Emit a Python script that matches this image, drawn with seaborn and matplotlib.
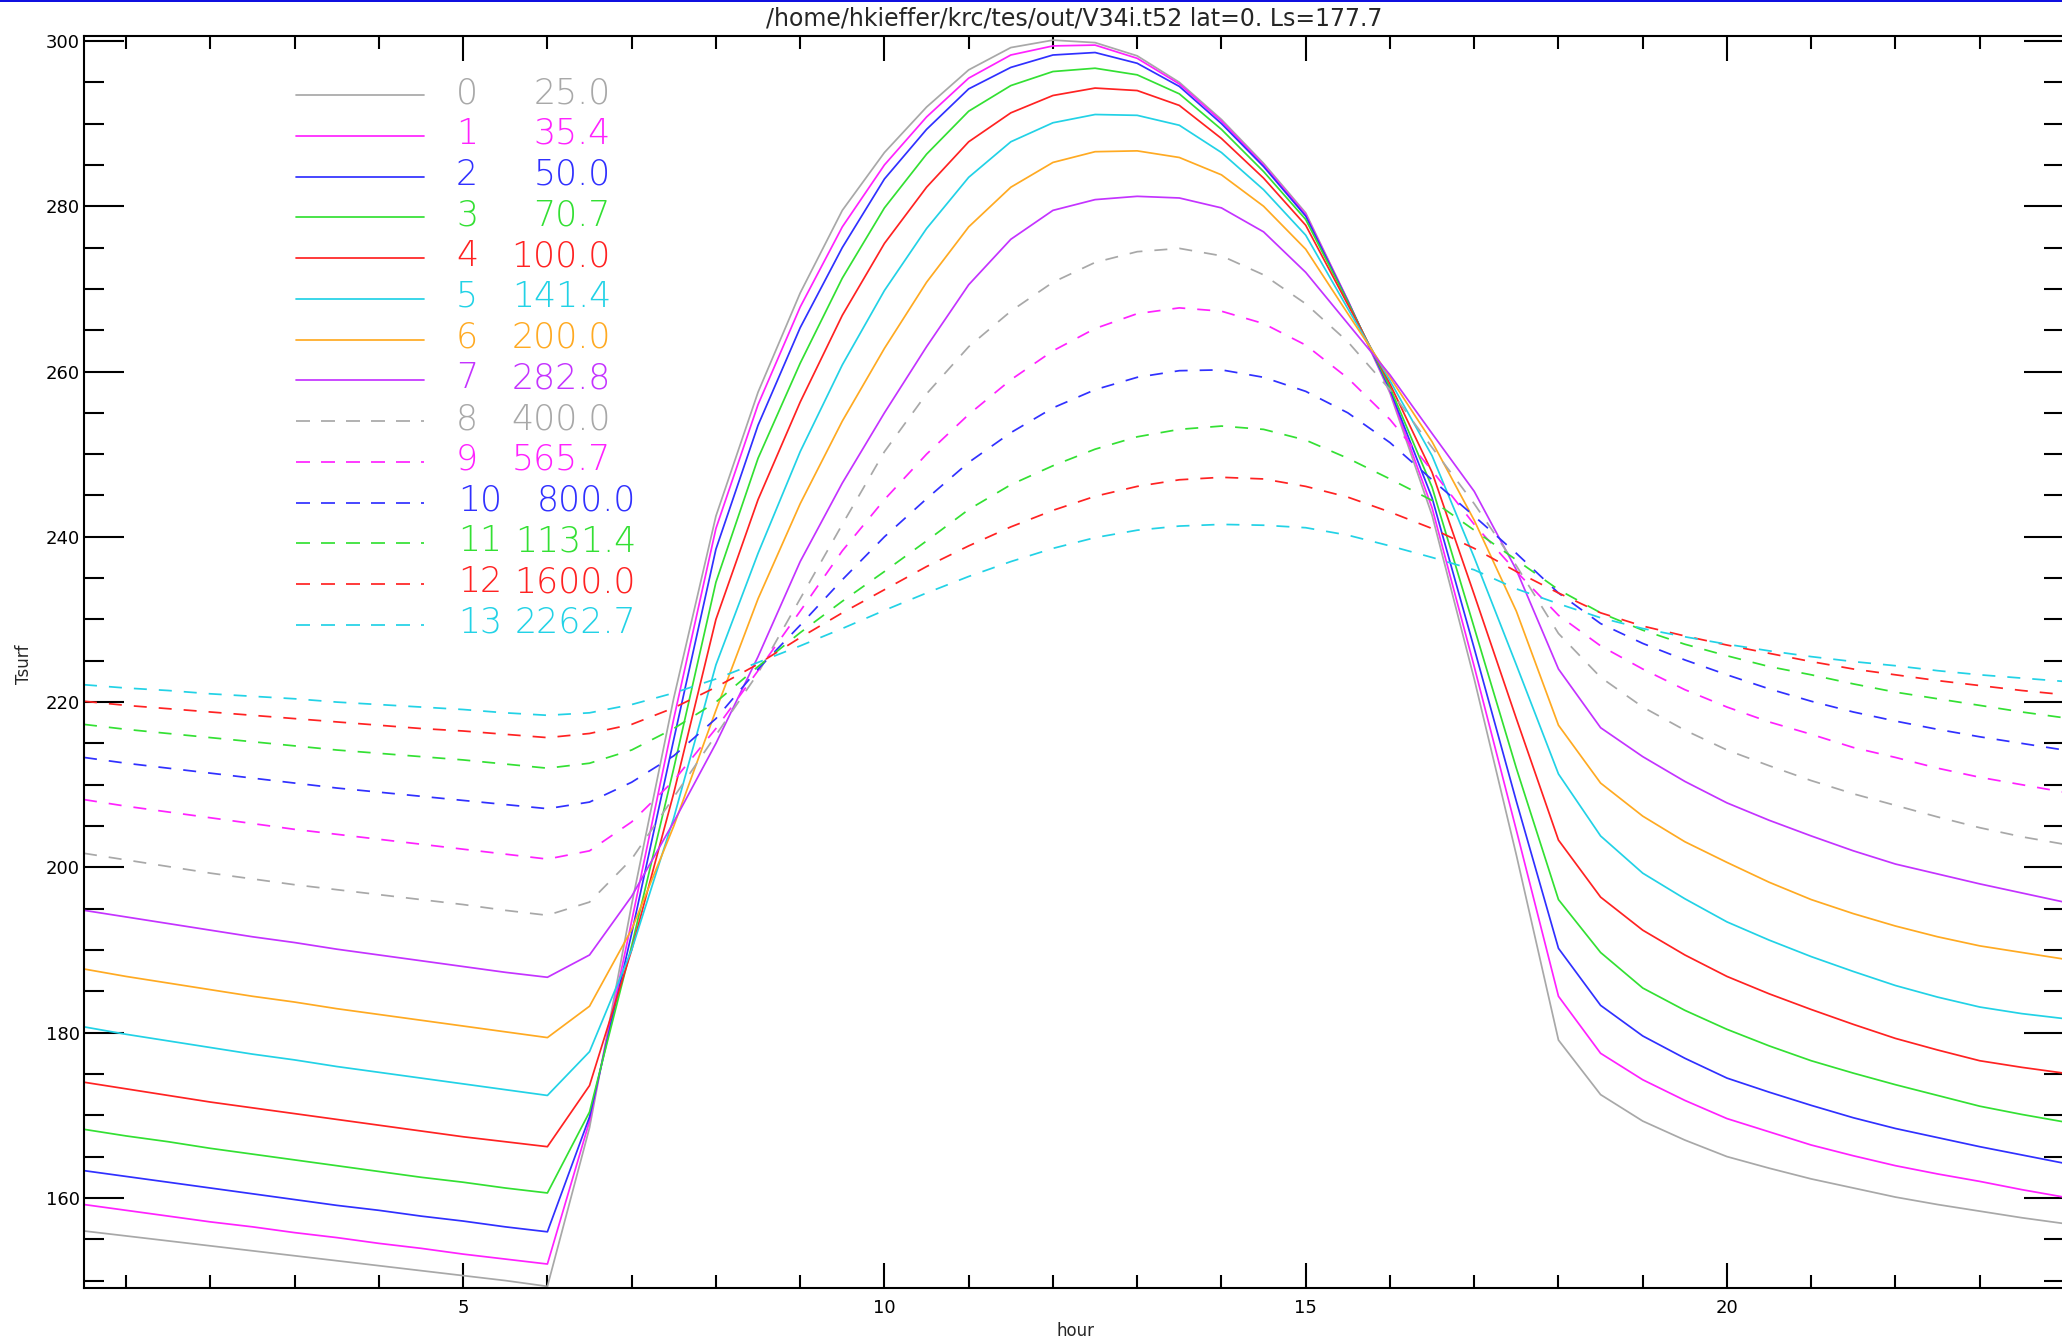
import numpy as np
import pandas as pd
import matplotlib
matplotlib.use("Agg")
import matplotlib.pyplot as plt
import seaborn as sns
from matplotlib.lines import Line2D
from matplotlib.patches import Rectangle
from matplotlib.ticker import MultipleLocator

# ---------------- data ----------------
HOURS = [0.5, 1.0, 1.5, 2.0, 2.5, 3.0, 3.5, 4.0, 4.5, 5.0, 5.5, 6.0,
         6.5, 7.0, 7.5, 8.0, 8.5, 9.0, 9.5, 10.0, 10.5, 11.0, 11.5, 12.0,
         12.5, 13.0, 13.5, 14.0, 14.5, 15.0, 15.5, 16.0, 16.5, 17.0, 17.5, 18.0,
         18.5, 19.0, 19.5, 20.0, 20.5, 21.0, 21.5, 22.0, 22.5, 23.0, 23.5, 24.0]

CASE_INDEX = list(range(14))
INERTIA = [25.0, 35.4, 50.0, 70.7, 100.0, 141.4, 200.0, 282.8,
           400.0, 565.7, 800.0, 1131.4, 1600.0, 2262.7]

T_00 = [156.0, 155.4, 154.8, 154.2, 153.6, 153.0, 152.4, 151.8, 151.2, 150.6, 150.0, 149.3,
        168.5, 195.5, 220.5, 242.5, 257.5, 269.5, 279.5, 286.5, 292.0, 296.5, 299.2, 300.1,
        299.8, 298.2, 295.0, 290.5, 285.2, 279.2, 268.6, 257.4, 242.6, 222.8, 201.5, 179.1,
        172.5, 169.3, 167.0, 165.0, 163.6, 162.3, 161.2, 160.1, 159.2, 158.4, 157.6, 156.9]
T_01 = [159.2, 158.5, 157.8, 157.1, 156.5, 155.8, 155.2, 154.5, 153.9, 153.2, 152.6, 152.0,
        169.3, 193.5, 218.0, 241.0, 256.0, 267.8, 277.5, 285.0, 290.8, 295.5, 298.3, 299.4,
        299.5, 297.9, 294.8, 290.3, 285.0, 279.0, 268.6, 257.6, 243.5, 224.3, 204.5, 184.4,
        177.5, 174.3, 171.8, 169.6, 168.0, 166.4, 165.1, 163.9, 162.9, 162.0, 161.0, 160.1]
T_02 = [163.3, 162.6, 161.9, 161.2, 160.5, 159.8, 159.1, 158.5, 157.8, 157.2, 156.5, 155.9,
        169.8, 192.0, 215.5, 238.5, 253.5, 265.3, 275.0, 283.3, 289.3, 294.2, 296.8, 298.3,
        298.6, 297.3, 294.5, 290.0, 284.8, 278.8, 268.5, 257.8, 244.7, 226.5, 208.0, 190.2,
        183.3, 179.6, 176.9, 174.5, 172.8, 171.2, 169.7, 168.4, 167.3, 166.2, 165.2, 164.2]
T_03 = [168.3, 167.5, 166.8, 166.0, 165.3, 164.6, 163.9, 163.2, 162.5, 161.9, 161.2, 160.6,
        170.4, 190.5, 212.0, 234.5, 249.5, 261.0, 271.3, 279.8, 286.3, 291.5, 294.6, 296.3,
        296.7, 295.9, 293.6, 289.3, 284.2, 278.4, 268.4, 258.1, 246.0, 229.0, 212.0, 196.1,
        189.7, 185.4, 182.7, 180.4, 178.4, 176.6, 175.1, 173.7, 172.4, 171.1, 170.1, 169.2]
T_04 = [174.0, 173.2, 172.4, 171.6, 170.9, 170.2, 169.5, 168.8, 168.1, 167.4, 166.8, 166.2,
        173.6, 190.0, 209.0, 230.0, 244.5, 256.3, 266.8, 275.5, 282.3, 287.8, 291.3, 293.4,
        294.3, 294.0, 292.2, 288.2, 283.4, 277.7, 268.1, 258.5, 247.8, 233.0, 218.0, 203.3,
        196.4, 192.4, 189.4, 186.8, 184.7, 182.8, 181.0, 179.3, 177.9, 176.6, 175.8, 175.1]
T_05 = [180.7, 179.8, 179.0, 178.2, 177.4, 176.7, 175.9, 175.2, 174.5, 173.8, 173.1, 172.4,
        177.7, 190.0, 206.0, 224.5, 238.0, 250.3, 260.8, 269.8, 277.3, 283.5, 287.8, 290.1,
        291.1, 291.0, 289.8, 286.5, 282.0, 276.5, 267.6, 258.9, 249.8, 237.5, 224.5, 211.3,
        203.8, 199.3, 196.2, 193.4, 191.2, 189.2, 187.4, 185.7, 184.3, 183.1, 182.3, 181.7]
T_06 = [187.7, 186.8, 186.0, 185.2, 184.4, 183.7, 182.9, 182.2, 181.5, 180.8, 180.1, 179.4,
        183.2, 192.5, 205.0, 219.0, 232.5, 244.0, 254.0, 262.8, 270.8, 277.5, 282.3, 285.3,
        286.6, 286.7, 285.9, 283.8, 280.0, 274.8, 267.0, 259.3, 251.5, 242.0, 231.0, 217.2,
        210.2, 206.2, 203.1, 200.6, 198.2, 196.1, 194.4, 192.9, 191.6, 190.5, 189.7, 188.9]
T_07 = [194.8, 194.0, 193.2, 192.4, 191.6, 190.9, 190.1, 189.4, 188.7, 188.0, 187.3, 186.7,
        189.4, 196.5, 205.5, 215.0, 225.5, 237.0, 246.5, 255.0, 263.0, 270.5, 276.0, 279.5,
        280.8, 281.2, 281.0, 279.8, 276.9, 272.0, 265.8, 259.6, 252.5, 245.5, 236.0, 224.0,
        216.9, 213.4, 210.4, 207.8, 205.7, 203.8, 202.0, 200.4, 199.2, 198.0, 196.9, 195.8]
T_08 = [201.7, 200.9, 200.1, 199.3, 198.6, 197.9, 197.3, 196.7, 196.1, 195.5, 194.8, 194.2,
        195.8, 201.0, 208.5, 216.0, 223.5, 232.5, 241.5, 250.3, 257.3, 263.0, 267.3, 270.8,
        273.2, 274.5, 274.9, 274.0, 271.7, 268.2, 263.6, 257.8, 250.8, 244.0, 236.5, 228.3,
        223.0, 219.4, 216.6, 214.2, 212.3, 210.5, 208.9, 207.5, 206.1, 204.8, 203.7, 202.8]
T_09 = [208.2, 207.4, 206.7, 206.0, 205.3, 204.6, 204.0, 203.4, 202.8, 202.2, 201.6, 201.0,
        202.0, 205.5, 210.5, 216.8, 223.8, 231.0, 238.3, 244.5, 250.0, 254.8, 259.0, 262.5,
        265.2, 267.0, 267.7, 267.3, 265.8, 263.2, 259.2, 254.2, 248.0, 241.5, 235.8, 230.5,
        226.8, 224.0, 221.5, 219.4, 217.6, 216.1, 214.5, 213.3, 212.0, 210.9, 210.0, 209.1]
T_10 = [213.3, 212.6, 212.0, 211.4, 210.8, 210.2, 209.6, 209.1, 208.6, 208.1, 207.6, 207.1,
        207.9, 210.3, 213.5, 218.0, 224.0, 229.3, 234.8, 240.0, 244.6, 249.0, 252.6, 255.6,
        257.8, 259.3, 260.1, 260.2, 259.3, 257.6, 255.0, 251.4, 246.9, 242.5, 238.0, 233.2,
        229.5, 227.1, 225.1, 223.3, 221.6, 220.1, 218.8, 217.7, 216.7, 215.8, 215.0, 214.2]
T_11 = [217.3, 216.7, 216.2, 215.7, 215.2, 214.7, 214.2, 213.8, 213.4, 213.0, 212.5, 212.0,
        212.6, 214.2, 216.8, 220.0, 224.3, 228.4, 232.2, 235.8, 239.5, 243.3, 246.3, 248.6,
        250.6, 252.1, 253.0, 253.4, 253.0, 251.7, 249.5, 247.0, 244.4, 240.8, 237.2, 233.6,
        230.8, 228.7, 227.0, 225.6, 224.3, 223.3, 222.2, 221.2, 220.4, 219.6, 218.8, 218.1]
T_12 = [220.1, 219.6, 219.2, 218.8, 218.4, 218.0, 217.6, 217.2, 216.8, 216.5, 216.1, 215.7,
        216.2, 217.3, 219.3, 221.8, 224.6, 227.8, 230.8, 233.6, 236.4, 238.9, 241.2, 243.2,
        244.9, 246.1, 246.9, 247.2, 247.0, 246.1, 244.8, 243.0, 241.0, 238.6, 235.8, 233.2,
        230.8, 229.2, 228.0, 226.9, 225.9, 224.9, 224.0, 223.3, 222.6, 222.0, 221.4, 220.9]
T_13 = [222.1, 221.7, 221.4, 221.0, 220.7, 220.4, 220.0, 219.7, 219.4, 219.1, 218.7, 218.4,
        218.7, 219.7, 221.1, 222.8, 224.8, 226.8, 228.9, 231.1, 233.2, 235.2, 237.0, 238.6,
        239.9, 240.8, 241.3, 241.5, 241.4, 241.1, 240.2, 238.9, 237.5, 236.0, 233.7, 231.9,
        230.2, 228.9, 227.9, 227.0, 226.2, 225.5, 224.9, 224.4, 223.8, 223.3, 222.9, 222.5]

SERIES = [T_00, T_01, T_02, T_03, T_04, T_05, T_06, T_07,
          T_08, T_09, T_10, T_11, T_12, T_13]

COLORS = ["#a8a8a8", "#ff22ff", "#3030ff", "#33e033", "#ff2222", "#22d2e6",
          "#ffaa22", "#c433ff",
          "#a8a8a8", "#ff22ff", "#3030ff", "#33e033", "#ff2222", "#22d2e6"]
LINE_KIND = ["solid"] * 8 + ["dashed"] * 6

TITLE = "/home/hkieffer/krc/tes/out/V34i.t52 lat=0. Ls=177.7"
XLABEL = "hour"
YLABEL = "Tsurf"

# ---------------- long table ----------------
rows = []
for i, vals in enumerate(SERIES):
    for h, t in zip(HOURS, vals):
        rows.append({"hour": h, "Tsurf": t, "case": str(CASE_INDEX[i]),
                     "kind": LINE_KIND[i]})
df = pd.DataFrame(rows)

# ---------------- style ----------------
sns.set_theme(style="white")
plt.rcParams["font.family"] = ["DejaVu Sans"]
plt.rcParams["lines.scale_dashes"] = False
plt.rcParams["axes.edgecolor"] = "black"
plt.rcParams["axes.linewidth"] = 1.5

W, H = 2062, 1341
DPI = 100
PX = 72.0 / DPI  # points per pixel

fig = plt.figure(figsize=(W / DPI, H / DPI), dpi=DPI, facecolor="white")
ax_l, ax_r, ax_t, ax_b = 84, 2064, 36, 1288
ax = fig.add_axes([ax_l / W, (H - ax_b) / H, (ax_r - ax_l) / W, (ax_b - ax_t) / H])
ax.set_facecolor("white")

palette = {str(i): COLORS[i] for i in CASE_INDEX}
sns.lineplot(data=df, x="hour", y="Tsurf", hue="case",
             hue_order=[str(i) for i in CASE_INDEX],
             style="kind", style_order=["solid", "dashed"],
             dashes={"solid": "", "dashed": (13 * PX, 12 * PX)},
             palette=palette, estimator=None, sort=False, legend=False,
             linewidth=1.25, ax=ax)

ax.set_xlim(0.5, 24.0)
ax.set_ylim(149.1, 300.6)

ax.xaxis.set_major_locator(MultipleLocator(5))
ax.xaxis.set_minor_locator(MultipleLocator(1))
ax.yaxis.set_major_locator(MultipleLocator(20))
ax.yaxis.set_minor_locator(MultipleLocator(5))
ax.tick_params(which="both", direction="in", top=True, right=True,
               bottom=True, left=True, colors="black", width=1.5,
               labelsize=13)
ax.tick_params(axis="x", which="major", length=25 * PX, pad=8)
ax.tick_params(axis="x", which="minor", length=13 * PX)
ax.tick_params(axis="y", which="major", length=40 * PX, pad=3)
ax.tick_params(axis="y", which="minor", length=20 * PX)
for s in ax.spines.values():
    s.set_color("black")
    s.set_linewidth(1.5)
ax.grid(False)

# axis labels and title
ax.set_xlabel(XLABEL, fontsize=12)
ax.xaxis.set_label_coords((1075 - ax_l) / (ax_r - ax_l), -(1331 - ax_b) / (ax_b - ax_t))
ax.xaxis.label.set_va("center")
ax.set_ylabel(YLABEL, fontsize=12)
ax.yaxis.set_label_coords((24 - ax_l) / (ax_r - ax_l), 1 - (664 - ax_t) / (ax_b - ax_t))
ax.yaxis.label.set_va("center")
ax.set_title(TITLE, fontsize=17, y=1 + (ax_t - 19) / (ax_b - ax_t), va="center", pad=0)

# top blue border
fig.patches.append(Rectangle((0, 1 - 2.0 / H), 1, 2.0 / H, transform=fig.transFigure,
                             facecolor="#1010e0", edgecolor="none"))

# ---------------- legend (line sample, index, inertia) ----------------
row0, step = 95.2, 40.75
for i in CASE_INDEX:
    y = row0 + i * step
    yf = 1 - y / H
    ls = "-" if LINE_KIND[i] == "solid" else (0, (14 * PX, 11 * PX))
    fig.add_artist(Line2D([296 / W, 424 / W], [yf, yf], color=COLORS[i],
                          linestyle=ls, linewidth=1.25))
    yt = 1 - (y - 2) / H
    fig.text((456 if i < 10 else 458) / W, yt, str(CASE_INDEX[i]), color=COLORS[i],
             fontsize=25, fontweight="light", ha="left", va="center")
    fig.text((611 if i < 10 else 636) / W, yt, f"{INERTIA[i]:.1f}", color=COLORS[i],
             fontsize=25, fontweight="light", ha="right", va="center")

fig.savefig("out.png", dpi=DPI, facecolor="white")
